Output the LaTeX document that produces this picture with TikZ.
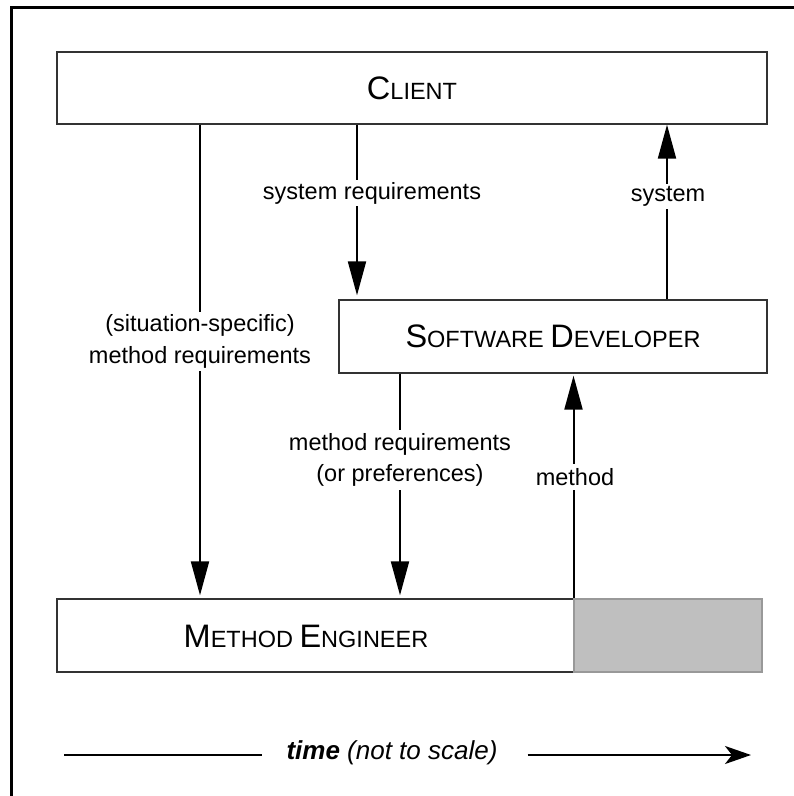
\documentclass[tikz,border=0pt]{standalone}
\usepackage{fontspec}
\setmainfont{Liberation Sans}
\usetikzlibrary{arrows.meta,calc}
\newcommand\rolecap[1]{{\fontsize{32.5}{36}\selectfont #1}}
\begin{document}
\begin{tikzpicture}[x=1pt,y=-1pt,
  box/.style={draw=black!80, line width=1.3pt, fill=white, inner sep=0pt,
    font=\fontsize{23.5}{28}\selectfont},
  graybox/.style={draw=black!40, line width=1.3pt, fill=black!25, inner sep=0pt},
  arr/.style={line width=2pt, -{Triangle[length=34pt,width=18pt]}},
  plain/.style={line width=2pt},
  lab/.style={fill=white, align=center, inner sep=3pt,
    font=\fontsize{23.5}{31.5}\selectfont},
  timearr/.style={line width=2pt, -{Stealth[length=26pt,width=18pt,inset=7pt]}}
]
\useasboundingbox (0,0) rectangle (794,796);
% outer frame (cut by the page)
\draw[line width=3pt] (11.5,820) -- (11.5,7.5) -- (820,7.5);

% boxes
\node[box, minimum width=710pt, minimum height=72pt] (client) at (412,88) {\rolecap{C}LIENT};
\node[box, minimum width=428pt, minimum height=73pt] (sd) at (553,336.5) {\rolecap{S}OFTWARE \rolecap{D}EVELOPER};
\node[box, minimum width=517pt, minimum height=73pt] (me) at (315.5,635.5) {};
\node[font=\fontsize{23.5}{28}\selectfont, inner sep=0pt] (metext) at (306,636) {\rolecap{M}ETHOD \rolecap{E}NGINEER};
\node[graybox, minimum width=188pt, minimum height=73pt] (gray) at (668,635.5) {};

% x positions of connectors
\coordinate (xA) at (200,0);
\coordinate (xB) at (357,0);
\coordinate (xC) at (667,0);
\coordinate (xD) at (400,0);
\coordinate (xE) at (573.5,0);

% connectors
\draw[arr, shorten >=3pt] (client.south -| xA) -- (me.north -| xA);
\node[lab] (lA) at (200,341.5) {(situation-specific)\\method requirements};

\draw[arr, shorten >=4pt] (client.south -| xB) -- (sd.north -| xB);
\node[lab, inner sep=2pt] (lB) at (372,193) {system requirements};

\draw[arr] (sd.north -| xC) -- (client.south -| xC);
\node[lab, inner sep=2pt] (lC) at (668,196.5) {system};

\draw[arr, shorten >=3pt] (sd.south -| xD) -- (me.north -| xD);
\node[lab] (lD) at (400,460) {method requirements\\(or preferences)};

\draw[arr, shorten >=2pt] (me.north -| xE) -- (sd.south -| xE);
\node[lab, inner sep=4pt] (lE) at (575,477) {method};

% time axis
\node[font=\fontsize{26}{30}\selectfont, inner sep=0pt] (time) at (392,753) {\textbf{\textit{time}} \textit{(not to scale)}};
\coordinate (t0) at (64,755);
\coordinate (t1) at (751,755);
\draw[plain] (t0) -- ($(time.west |- t0)+(-24,0)$);
\draw[timearr] ($(time.east |- t1)+(30,0)$) -- (t1);
\end{tikzpicture}
\end{document}
